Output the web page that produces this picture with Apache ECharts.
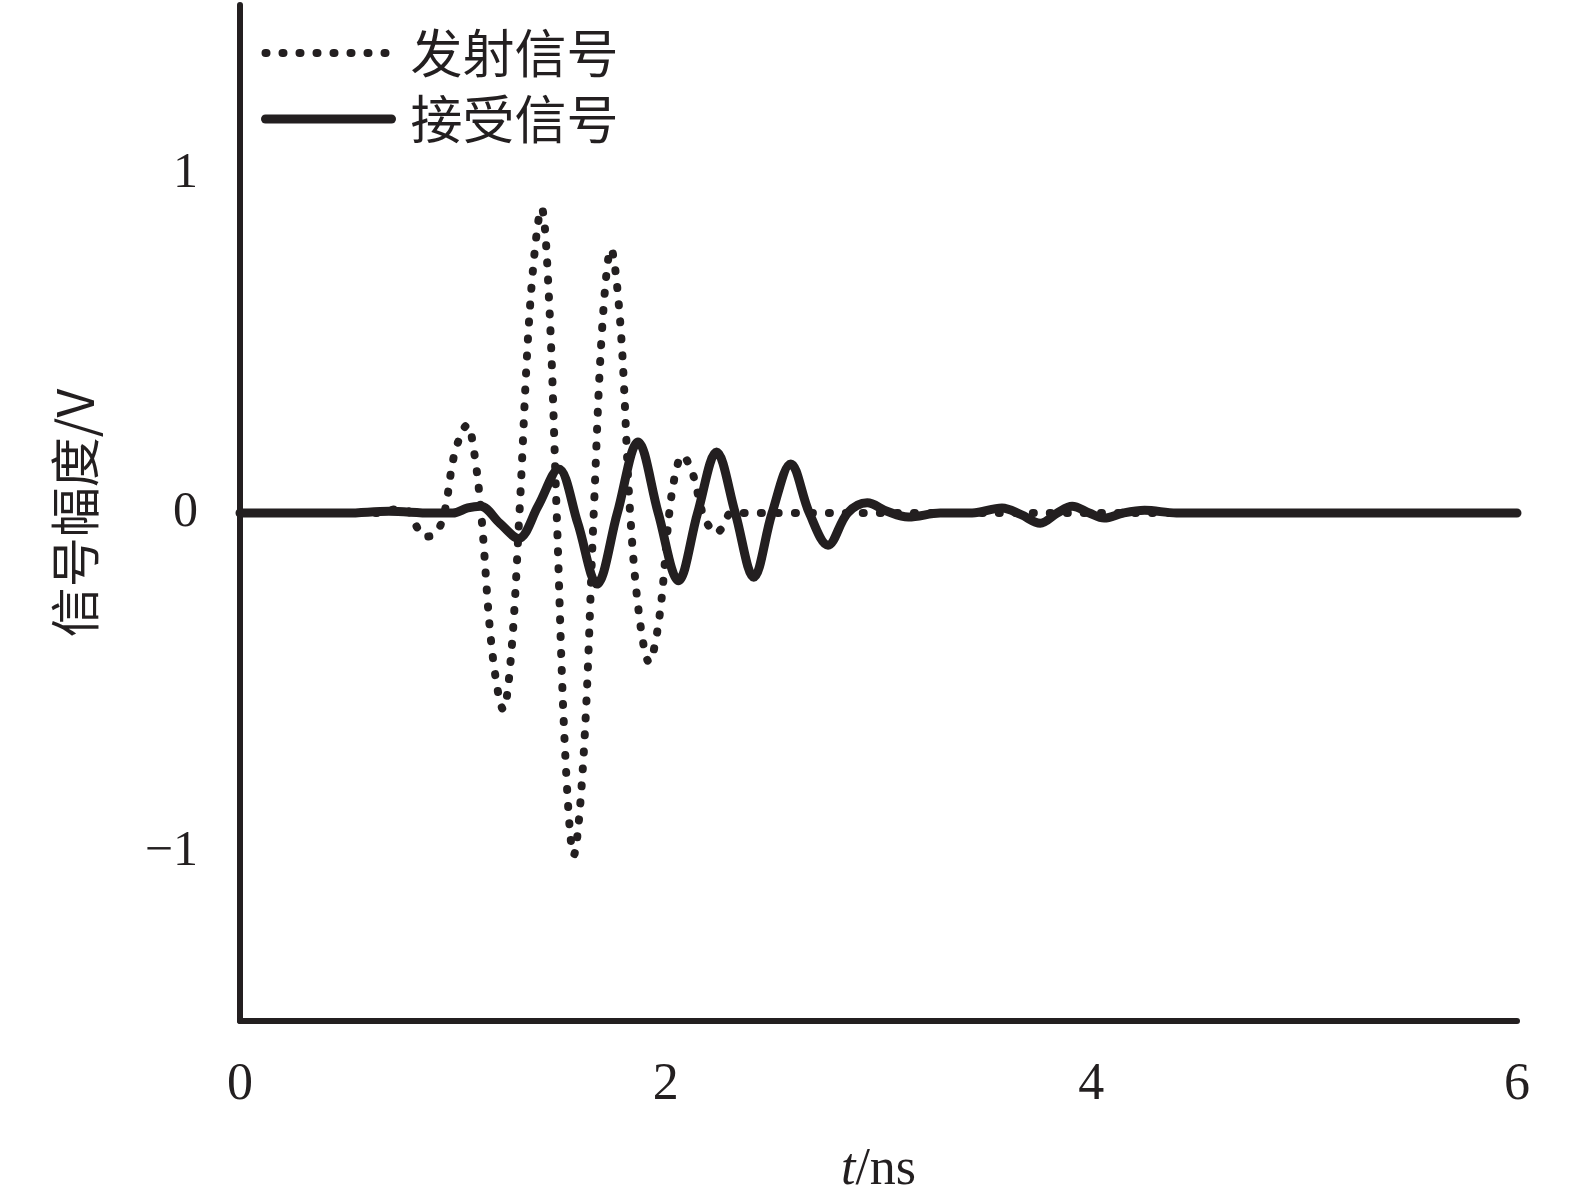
<!DOCTYPE html>
<html>
<head>
<meta charset="utf-8">
<script src="https://cdn.jsdelivr.net/npm/echarts@6/dist/echarts.min.js"></script>
<style>html,body{margin:0;padding:0;background:#fff}#c{width:1575px;height:1201px}</style>
</head>
<body>
<div id="c"></div>
<script>
// Transmit signal (dotted): time in ns, amplitude in V
const txTime = [0.00,0.40,0.66,0.72,0.78,0.82,0.87,0.92,0.96,1.01,1.068,1.10,1.133,1.185,1.237,1.275,1.313,1.365,1.417,1.452,1.488,1.528,1.568,1.615,1.662,1.702,1.743,1.788,1.833,1.877,1.922,1.97,2.017,2.047,2.078,2.125,2.173,2.204,2.234,2.27,2.31,2.6,3.0,4.0,5.0,6.0];
const txValue = [0,0,0.00,0.01,0.01,-0.03,-0.07,-0.06,0.00,0.18,0.26,0.18,0.00,-0.41,-0.58,-0.41,0.00,0.63,0.90,0.63,0.00,-0.71,-1.01,-0.71,0.00,0.55,0.78,0.55,0.00,-0.31,-0.44,-0.31,0.00,0.12,0.17,0.12,0.00,-0.04,-0.06,-0.04,0.00,0,0,0,0,0];
// Received signal (solid)
const rxTime = [0,0.5,0.7,0.9,1.0,1.07,1.13,1.22,1.308,1.40,1.497,1.587,1.677,1.773,1.87,1.965,2.06,2.15,2.239,2.327,2.414,2.50,2.588,2.675,2.763,2.855,2.947,3.04,3.14,3.29,3.44,3.58,3.67,3.76,3.84,3.91,3.99,4.06,4.15,4.25,4.4,5.0,6.0];
const rxValue = [0,0,0.005,0,0,0.015,0.02,-0.03,-0.075,0.02,0.13,-0.03,-0.21,0.0,0.21,0.0,-0.20,0.0,0.18,0.0,-0.19,0.0,0.145,0.0,-0.095,0.0,0.03,0.005,-0.012,0,0,0.015,-0.005,-0.03,0,0.02,0,-0.015,0,0.008,0,0,0];
const seriesNames = ['发射信号','接受信号'];
const xTicks = [0,2,4,6];
const yTicks = [-1,0,1];

const txData = txTime.map((t,i)=>[t,txValue[i]]);
const rxData = rxTime.map((t,i)=>[t,rxValue[i]]);

const chart = echarts.init(document.getElementById('c'), null, {renderer:'canvas'});
const serif = '"Liberation Serif","DejaVu Serif",serif';
const cjk = '"Noto Sans CJK SC",sans-serif';
const ink = '#231f20';
chart.setOption({
  animation:false,
  backgroundColor:'#fff',
  color:[ink, ink],
  grid:{left:240,right:58,top:5,bottom:168},
  legend:{
    orient:'vertical', left:256, top:20,
    itemWidth:126, itemHeight:14, itemGap:10,
    data:seriesNames,
    itemStyle:{opacity:0},
    lineStyle:{width:'inherit', type:'inherit', cap:'round'},
    textStyle:{fontFamily:cjk, fontSize:52, color:ink, lineHeight:56, padding:[0,0,0,14]}
  },
  xAxis:{
    type:'value', min:0, max:6, interval:2,
    axisLine:{show:true, onZero:false, lineStyle:{color:ink, width:6}},
    axisTick:{show:false}, splitLine:{show:false},
    axisLabel:{fontFamily:serif, fontSize:52, color:ink, margin:38,
      formatter:v=>xTicks.includes(v)?String(v):''},
    name:'{i|t}/ns', nameLocation:'middle', nameGap:123,
    nameTextStyle:{fontFamily:serif, fontSize:52, color:ink,
      rich:{i:{fontFamily:serif, fontStyle:'italic', fontSize:52, color:ink}}}
  },
  yAxis:{
    type:'value', min:-1.5, max:1.5, interval:0.5,
    axisLine:{show:true, onZero:false, lineStyle:{color:ink, width:6}},
    axisTick:{show:false}, splitLine:{show:false},
    axisLabel:{fontFamily:serif, fontSize:50, color:ink, margin:42,
      formatter:v=>yTicks.includes(v)?(v<0?'\u2212'+Math.abs(v):String(v)):''},
    name:'信号幅度/V', nameLocation:'middle', nameGap:140,
    nameTextStyle:{fontFamily:cjk, fontSize:50, color:ink}
  },
  series:[
    {name:seriesNames[0], type:'line', data:txData, smooth:0.35, showSymbol:false, symbol:'none',
     itemStyle:{color:ink},
     lineStyle:{color:ink, width:8, type:[1,16], cap:'round'}, z:2},
    {name:seriesNames[1], type:'line', data:rxData, smooth:0.35, showSymbol:false, symbol:'none',
     itemStyle:{color:ink},
     lineStyle:{color:ink, width:9, cap:'round', join:'round'}, z:3}
  ]
});
</script>
</body>
</html>
